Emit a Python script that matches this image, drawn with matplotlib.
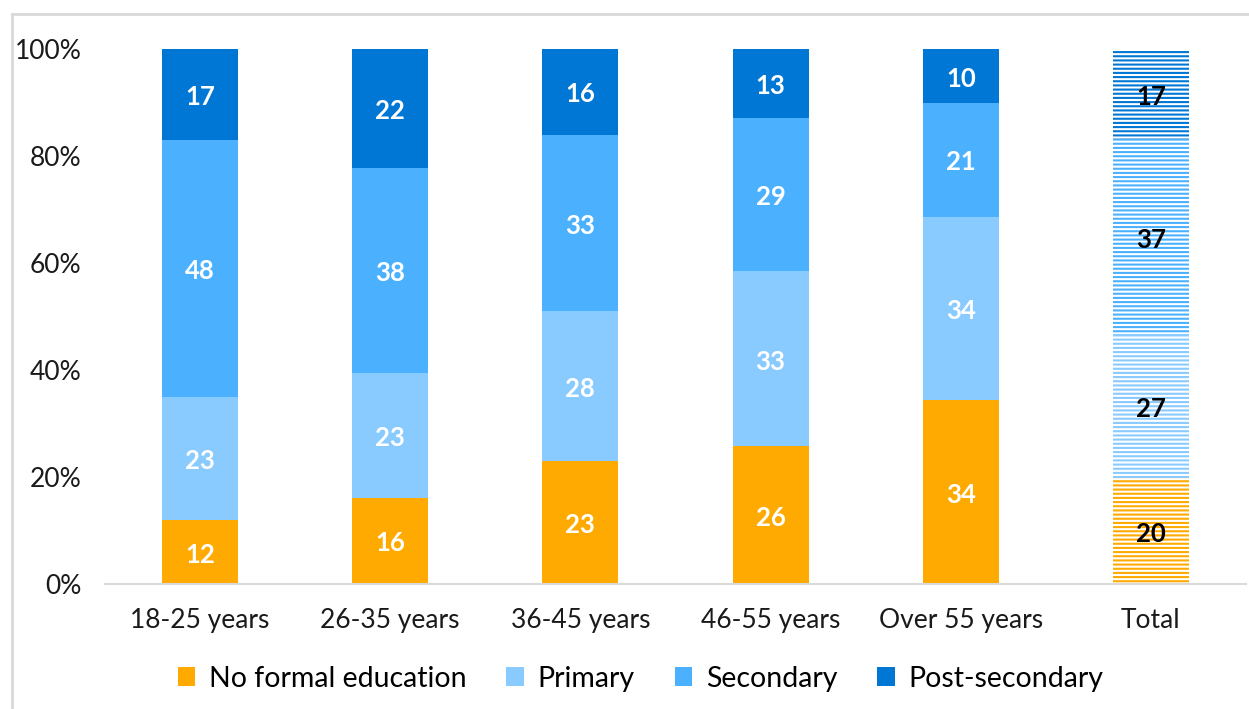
import numpy as np
import matplotlib
import matplotlib.pyplot as plt
from matplotlib.patches import Patch
from matplotlib.lines import Line2D

matplotlib.rcParams['font.family'] = ['Lato', 'DejaVu Sans']
matplotlib.rcParams['hatch.linewidth'] = 1.5

groups = ['18-25 years', '26-35 years', '36-45 years', '46-55 years', 'Over 55 years', 'Total']
series = ['No formal education', 'Primary', 'Secondary', 'Post-secondary']
no_formal = [12, 16, 23, 26, 34, 20]
primary = [23, 23, 28, 33, 34, 27]
secondary = [48, 38, 33, 29, 21, 37]
post_secondary = [17, 22, 16, 13, 10, 17]
colors = ['#FFAA00', '#89CAFF', '#4BB1FF', '#0077D4']

data = np.array([no_formal, primary, secondary, post_secondary], dtype=float)
shares = data / data.sum(axis=0) * 100  # 100% stacked

fig = plt.figure(figsize=(12.49, 7.09), dpi=100)
ax = fig.add_axes([0.084, 0.1763, 0.9136, 0.7546])

x = np.arange(len(groups))
bottom = np.zeros(len(groups))
for i in range(len(series)):
    for j in range(len(groups)):
        total = groups[j] == 'Total'
        if total:
            ax.bar(x[j], shares[i, j], 0.4, bottom=bottom[j], facecolor='white',
                   edgecolor=colors[i], hatch='----', linewidth=0)
        else:
            ax.bar(x[j], shares[i, j], 0.4, bottom=bottom[j], color=colors[i], linewidth=0)
        ax.text(x[j], bottom[j] + shares[i, j] / 2 - 0.5, '%d' % data[i, j],
                ha='center', va='center', fontsize=18.5, fontweight='bold',
                color='black' if total else 'white')
    bottom += shares[i]

ax.set_xlim(-0.5, len(groups) - 0.5)
ax.set_ylim(0, 100)
ax.set_yticks(np.arange(0, 101, 20))
ax.set_yticklabels(['%d%%' % v for v in range(0, 101, 20)])
ax.set_xticks(x)
ax.set_xticklabels(groups)
ax.tick_params(length=0, labelsize=19, colors='#1a1a1a')
ax.tick_params(axis='y', pad=17)
ax.tick_params(axis='x', pad=17)
for s in ['top', 'right', 'left']:
    ax.spines[s].set_visible(False)
ax.spines['bottom'].set_color('#D9D9D9')
ax.spines['bottom'].set_linewidth(1.5)

handles = [Patch(facecolor=c, edgecolor='none') for c in colors]
fig.legend(handles, series, loc='center', bbox_to_anchor=(0.513, 0.043), ncol=4,
           frameon=False, fontsize=20.5, handlelength=0.6, handleheight=0.6,
           columnspacing=1.4, handletextpad=0.5)

# light frame on the left and top
fig.add_artist(Line2D([12 / 1249, 12 / 1249], [0, 1 - 14 / 709], color='#D9D9D9', lw=2))
fig.add_artist(Line2D([12 / 1249, 1], [1 - 14 / 709, 1 - 14 / 709], color='#D9D9D9', lw=2))

fig.savefig('out.png', dpi=100)
